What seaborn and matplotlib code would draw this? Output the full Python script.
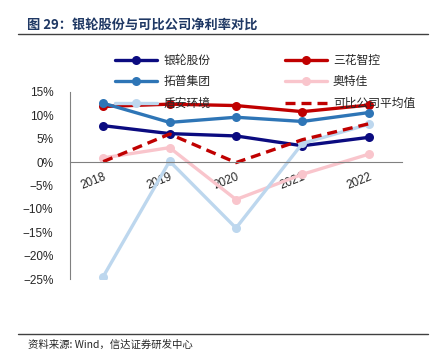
import pandas as pd
import matplotlib.pyplot as plt
import seaborn as sns
from matplotlib.ticker import FixedLocator, PercentFormatter
from matplotlib.lines import Line2D

# data (net margin, %)
years = ['2018', '2019', '2020', '2021', '2022']
yinlun = [7.8, 6.1, 5.6, 3.5, 5.3]
sanhua = [11.9, 12.4, 12.1, 10.8, 12.2]
tuopu = [12.6, 8.5, 9.6, 8.7, 10.6]
aotejia = [0.9, 3.1, -8.0, -2.6, 1.7]
dunan = [-24.5, 0.2, -14.1, 4.0, 8.1]
average = [0.1, 6.0, -0.1, 4.8, 8.2]

names = ['银轮股份', '三花智控', '拓普集团', '奥特佳', '盾安环境', '可比公司平均值']
series = [yinlun, sanhua, tuopu, aotejia, dunan, average]
colors = ['#0B0B80', '#C00000', '#2E75B6', '#F9C5CC', '#BDD7EE', '#C00000']

rows = []
for n, vals in zip(names, series):
    for y, v in zip(years, vals):
        rows.append({'year': y, 'company': n, 'value': v})
df = pd.DataFrame(rows)

sns.set_style('white')
plt.rcParams['font.family'] = ['Liberation Sans', 'Noto Sans CJK SC', 'DejaVu Sans']

fig = plt.figure(figsize=(4.42, 3.56), dpi=100)
ax = fig.add_axes([70 / 442, 1 - 279 / 356, 332 / 442, 187 / 356])

handles = []
for n, c in zip(names, colors):
    sub = df[df.company == n]
    if n == '可比公司平均值':
        sns.lineplot(data=sub, x='year', y='value', ax=ax, color=c, lw=2.4,
                     linestyle=(0, (3, 1.8)), sort=False)
        handles.append(Line2D([], [], color=c, lw=2.4, linestyle=(0, (3, 1.8))))
    else:
        sns.lineplot(data=sub, x='year', y='value', ax=ax, color=c, lw=2.4,
                     marker='o', markersize=6.5, markeredgewidth=0, sort=False)
        handles.append(Line2D([], [], color=c, lw=2.4, marker='o',
                              markersize=6.5, markeredgewidth=0))

ax.set_xlim(-0.5, 4.5)
ax.set_ylim(-25, 15)
ax.set_yticks(range(-25, 16, 5))
ax.yaxis.set_major_formatter(PercentFormatter(decimals=0))
ax.set_xlabel('')
ax.set_ylabel('')

for s in ['top', 'right']:
    ax.spines[s].set_visible(False)
ax.spines['bottom'].set_position(('data', 0))
for s in ['bottom', 'left']:
    ax.spines[s].set_color('#808080')
    ax.spines[s].set_linewidth(0.8)

ax.xaxis.set_minor_locator(FixedLocator([-0.5, 0.5, 1.5, 2.5, 3.5, 4.5]))
ax.tick_params(axis='x', which='major', length=0, pad=6, labelsize=8.5)
ax.tick_params(axis='x', which='minor', length=4, direction='out', color='#808080', width=0.8)
ax.tick_params(axis='y', which='major', length=4, direction='out', color='#808080',
               width=0.8, labelsize=8.5, pad=8)
for lab in ax.get_xticklabels():
    lab.set_rotation(22)
    lab.set_ha('right')
    lab.set_va('top')
    lab.set_rotation_mode('anchor')
    lab.set_zorder(0)

# legend: 2 columns, row order follows the series order
order = [0, 2, 4, 1, 3, 5]
fig.legend([handles[i] for i in order], [names[i] for i in order],
           ncol=2, frameon=False, loc='upper left',
           bbox_to_anchor=(110 / 442, 1 - 49 / 356),
           prop={'family': ['Noto Sans CJK SC'], 'size': 8.5},
           handlelength=3.6, handletextpad=0.5, columnspacing=6.3,
           labelspacing=0.72, borderaxespad=0)

fig.text(27 / 442, 1 - 25 / 356, '图 29：银轮股份与可比公司净利率对比', fontsize=9.5,
         fontweight='bold', color='#1F3864', va='center',
         family=['Noto Sans CJK SC', 'DejaVu Sans'])
fig.add_artist(Line2D([18 / 442, 428 / 442], [1 - 34 / 356] * 2, color='#404040', lw=1))
fig.add_artist(Line2D([18 / 442, 428 / 442], [1 - 334 / 356] * 2, color='#404040', lw=1))
fig.text(28 / 442, 1 - 345 / 356, '资料来源: Wind，信达证券研发中心', fontsize=7.5,
         style='italic', va='center', family=['Noto Sans CJK SC', 'DejaVu Sans'])

fig.savefig('out.png', dpi=100)
